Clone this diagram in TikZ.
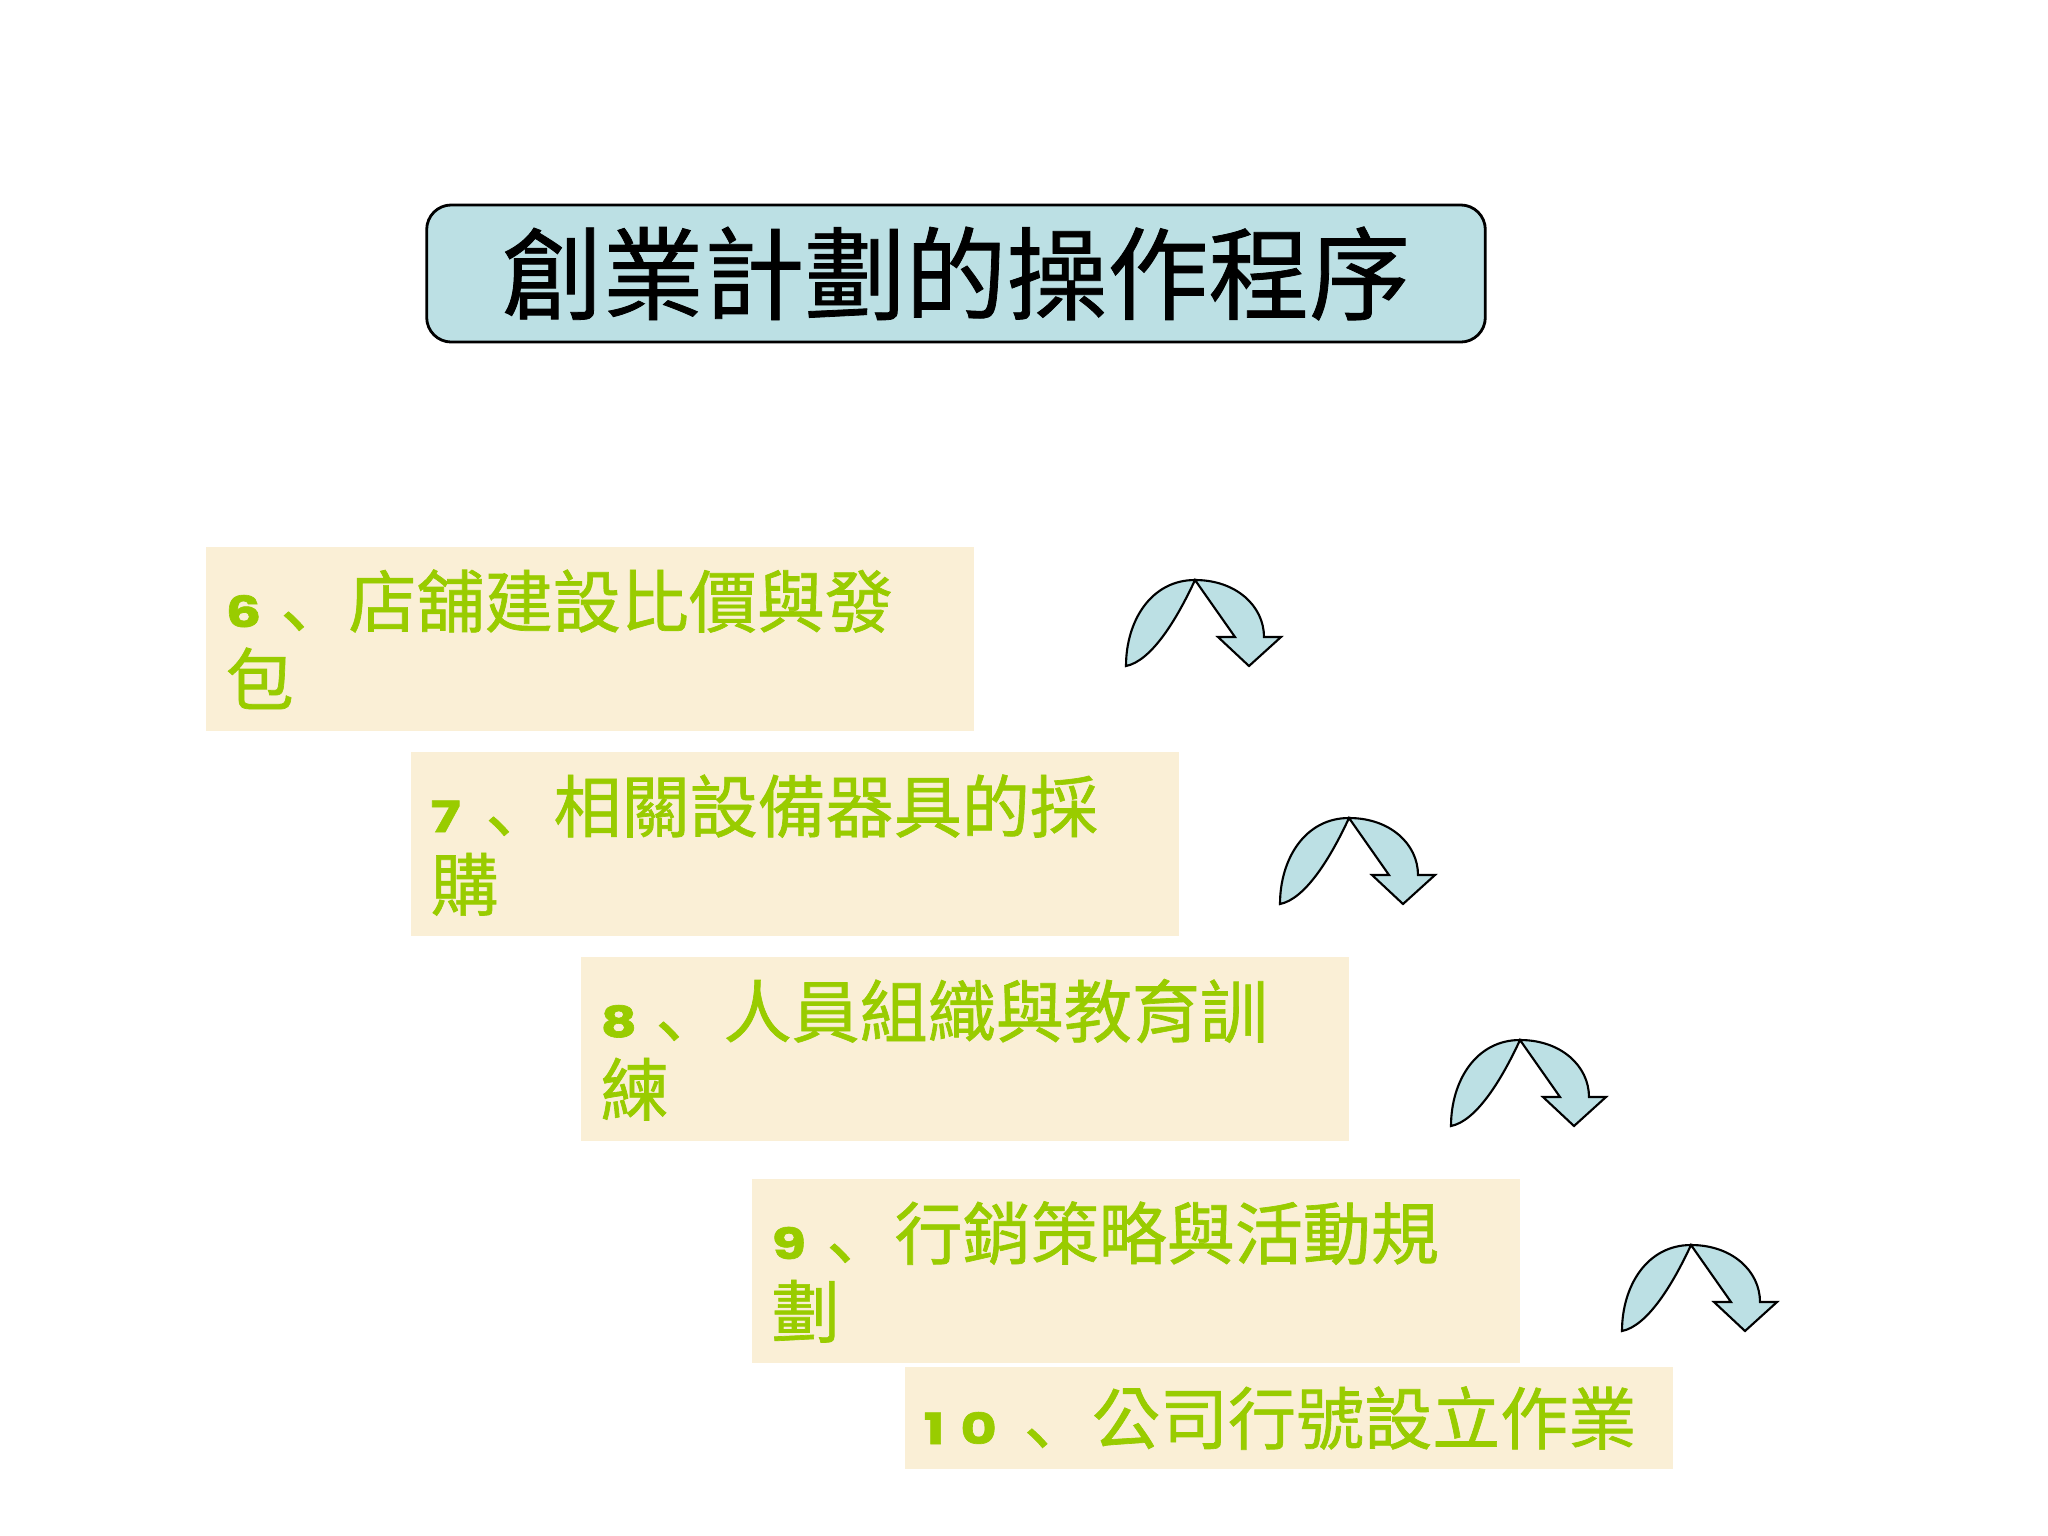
\documentclass[tikz,border=0pt]{standalone}
\usepackage{fontspec}
\usetikzlibrary{calc}
\newfontfamily\cjk{Noto Sans CJK TC}[FakeBold=0.8]
\newfontfamily\cjkg{Noto Sans CJK TC}[FakeBold=1.0]
\newfontfamily\cjkjp{Noto Sans CJK JP}[FakeBold=1.0]
\newfontfamily\digitfont{Poppins}[FakeStretch=1.3,FakeBold=1.5]
\definecolor{titlefill}{RGB}{188,224,228}
\definecolor{paper}{RGB}{250,239,214}
\definecolor{leaf}{RGB}{153,204,0}
\newcommand\stepline[3]{\makebox[#1][l]{\digitfont\bfseries\fontsize{12.2pt}{14pt}\selectfont #2}{\cjkjp 、}#3}
\tikzset{
  titlebox/.style={draw=black, fill=titlefill, rounded corners=7pt, line width=0.8pt,
    minimum width=10.58cm, minimum height=1.37cm, inner sep=0pt,
    font=\cjk\fontsize{28.7pt}{32pt}\selectfont},
  stepbox/.style={fill=paper, draw=none, anchor=north west, inner sep=0pt,
    minimum width=7.68cm, minimum height=1.84cm},
  lastbox/.style={stepbox, minimum height=1.02cm},
  steptext/.style={anchor=base west, inner sep=0pt, text=leaf,
    font=\cjkg\fontsize{19.35pt}{22.2pt}\selectfont},
  arrowshape/.style={fill=titlefill, draw=black, line width=0.6pt},
  turnarrow/.pic={
    \path[arrowshape] (0,0) .. controls (0,-45) and (25,-86) .. (69,-86)
      .. controls (110,-86) and (138,-60) .. (138,-29)
      -- (155,-29) -- (123,0) -- (92,-29) -- (109,-29) -- (69,-86)
      .. controls (50,-45) and (25,-5) .. (0,0) -- cycle;
  }
}
\begin{document}
\begin{tikzpicture}[x=0.01cm, y=-0.01cm]
\useasboundingbox (0,0) rectangle (2048,1536);
\fill[white] (0,0) rectangle (2048,1536);

\node[titlebox] (title) at (956,273.5) {創業計劃的操作程序};

\node[stepbox] (b6) at (205,546) {};
\node[stepbox] (b7) at (410,751) {};
\node[stepbox] (b8) at (580,956) {};
\node[stepbox] (b9) at (751,1178) {};
\node[lastbox] (b10) at (904,1366) {};

\node[steptext] (t6) at ($(b6.north west)+(20,81)$)
  {\parbox[t]{7.2cm}{\stepline{15.6pt}{6}{店舖建設比價與發}\\包}};
\node[steptext] (t7) at ($(b7.north west)+(20,81)$)
  {\parbox[t]{7.2cm}{\stepline{15.6pt}{7}{相關設備器具的採}\\購}};
\node[steptext] (t8) at ($(b8.north west)+(20,81)$)
  {\parbox[t]{7.2cm}{\stepline{15.6pt}{8}{人員組織與教育訓}\\練}};
\node[steptext] (t9) at ($(b9.north west)+(20,81)$)
  {\parbox[t]{7.2cm}{\stepline{15.6pt}{9}{行銷策略與活動規}\\劃}};
\node[steptext] (t10) at ($(b10.north west)+(19,78)$)
  {\stepline{28.5pt}{1\kern4.5pt0}{公司行號設立作業}};

\pic (a1) at (1126,666) {turnarrow};
\pic (a2) at (1280,904) {turnarrow};
\pic (a3) at (1451,1126) {turnarrow};
\pic (a4) at (1622,1331) {turnarrow};
\end{tikzpicture}
\end{document}
